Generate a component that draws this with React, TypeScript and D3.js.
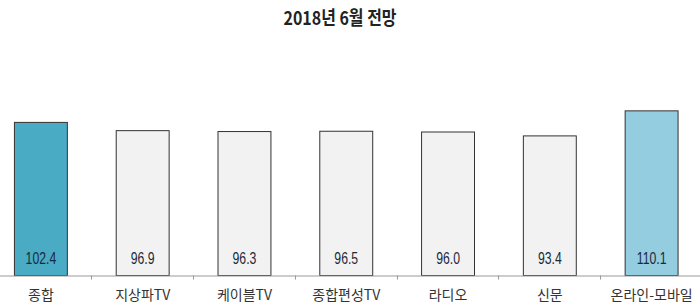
import React from "react";
import * as d3 from "d3";

const categories = ["종합", "지상파TV", "케이블TV", "종합편성TV", "라디오", "신문", "온라인-모바일"];
const values = [102.4, 96.9, 96.3, 96.5, 96.0, 93.4, 110.1];
const fills = ["#4aabc5", "#f2f2f2", "#f2f2f2", "#f2f2f2", "#f2f2f2", "#f2f2f2", "#94cce0"];
const title = "2018년 6월 전망";

const W = 700;
const H = 307;
const baseY = 275.5;

export default function App() {
  const x = d3.scaleBand<string>().domain(categories).range([-10.5, 702]).paddingInner(0.48).paddingOuter(0.24);
  const y = d3.scaleLinear().domain([0, 180]).range([baseY, baseY - 270]);
  const x0 = x.range()[0];
  const tickXs = d3.range(1, categories.length).map((i) => x0 + (x.range()[1] - x0) * i / categories.length);

  return (
    <svg width={W} height={H} style={{ position: "absolute", left: 0, top: 0, background: "#fff" }}>
      <text
        transform={`translate(340,25) scale(0.84,1)`}
        textAnchor="middle"
        fontFamily="'Noto Sans CJK KR', sans-serif"
        fontSize={19}
        fontWeight="bold"
        fill="#222"
      >
        {title}
      </text>
      {categories.map((c, i) => {
        const bx = x(c)!;
        const by = y(values[i]);
        const cx = bx + x.bandwidth() / 2 + 0.5;
        return (
          <g key={c}>
            <rect x={bx + 0.5} y={by + 0.5} width={x.bandwidth()} height={baseY - by - 0.5} fill={fills[i]} stroke="#333" strokeWidth={1} />
            <text
              transform={`translate(${cx},264) scale(0.72,1)`}
              textAnchor="middle"
              fontFamily="'Liberation Sans', Arial, sans-serif"
              fontSize={17}
              fill="#1a2a3a"
            >
              {values[i].toFixed(1)}
            </text>
            <text x={cx} y={300} textAnchor="middle" fontFamily="'Noto Sans CJK KR', sans-serif" fontSize={14} fill="#333">
              {c}
            </text>
          </g>
        );
      })}
      <line x1={0} x2={W} y1={baseY + 0.5} y2={baseY + 0.5} stroke="#999" strokeWidth={1} />
      {tickXs.map((t, i) => (
        <line key={i} x1={Math.round(t) + 0.5} x2={Math.round(t) + 0.5} y1={baseY} y2={baseY + 4} stroke="#999" strokeWidth={1} />
      ))}
    </svg>
  );
}
